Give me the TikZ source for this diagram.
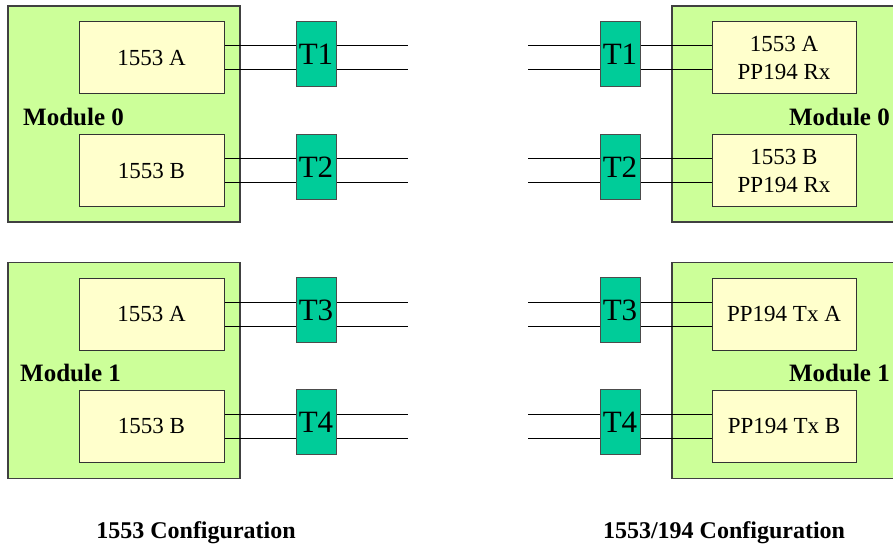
\documentclass[tikz,border=0pt]{standalone}
\usepackage{fontspec}
\setmainfont{Liberation Serif}
\definecolor{verdeModulo}{HTML}{CCFF99}
\definecolor{amarilloChip}{HTML}{FFFFCC}
\definecolor{verdeTrafo}{HTML}{00CC99}
\begin{document}
\begin{tikzpicture}[x=1pt, y=-1pt,
      modulo/.style={draw=black!75, line width=1.2pt, fill=verdeModulo, minimum width=232pt, minimum height=216pt, inner sep=0pt},
      chip/.style={draw=black!80, line width=1pt, fill=amarilloChip, minimum width=145pt, minimum height=72pt, inner sep=0pt, align=center, font=\fontsize{23}{28}\selectfont},
      trafo/.style={draw=black!70, line width=1pt, fill=verdeTrafo, minimum width=40pt, minimum height=65pt, inner sep=0pt, font=\fontsize{31}{31}\selectfont},
      etqModulo/.style={inner sep=0pt, font=\bfseries\fontsize{25}{25}\selectfont},
      etqConfig/.style={inner sep=0pt, font=\bfseries\fontsize{24}{24}\selectfont},
      linea/.style={line width=1pt}
    ]
    \useasboundingbox (0,0) rectangle (893,548);
    \coordinate (finIzq) at (408,0);
    \coordinate (finDer) at (528,0);

    % --- 1553 Configuration ---
    \node[modulo] (mI0) at (124,114) {};
    \node[modulo] (mI1) at (124,370.5) {};
    \node[chip] (aI0) at (151.5,58) {1553 A};
    \node[chip] (bI0) at (151.5,170.5) {1553 B};
    \node[chip] (aI1) at (151.5,314) {1553 A};
    \node[chip] (bI1) at (151.5,426) {1553 B};
    \node[etqModulo, anchor=west] (lI0) at (23,117) {Module 0};
    \node[etqModulo, anchor=west] (lI1) at (20,373) {Module 1};
    \foreach \c in {aI0,bI0,aI1,bI1} {
      \coordinate (p) at ([yshift=12pt]\c.east);
      \coordinate (q) at ([yshift=-12pt]\c.east);
      \draw[linea] (p) -- (p -| finIzq) (q) -- (q -| finIzq);
    }
    \node[trafo] (tI1) at (316,54.5) {T1};
    \node[trafo] (tI2) at (316,167) {T2};
    \node[trafo] (tI3) at (316,310) {T3};
    \node[trafo] (tI4) at (316,422) {T4};
    \node[etqConfig] (cI) at (196,533) {1553 Configuration};

    % --- 1553/194 Configuration ---
    \node[modulo] (mD0) at (788,114) {};
    \node[modulo] (mD1) at (788,370.5) {};
    \node[chip, minimum width=144pt] (aD0) at (784,58) {1553 A\\PP194 Rx};
    \node[chip, minimum width=144pt] (bD0) at (784,170.5) {1553 B\\PP194 Rx};
    \node[chip, minimum width=144pt] (aD1) at (784,314) {PP194 Tx A};
    \node[chip, minimum width=144pt] (bD1) at (784,426) {PP194 Tx B};
    \node[etqModulo, anchor=east] (lD0) at (890,117) {Module 0};
    \node[etqModulo, anchor=east] (lD1) at (890,373) {Module 1};
    \foreach \c in {aD0,bD0,aD1,bD1} {
      \coordinate (p) at ([yshift=12pt]\c.west);
      \coordinate (q) at ([yshift=-12pt]\c.west);
      \draw[linea] (p) -- (p -| finDer) (q) -- (q -| finDer);
    }
    \node[trafo] (tD1) at (620,54.5) {T1};
    \node[trafo] (tD2) at (620,167) {T2};
    \node[trafo] (tD3) at (620,310) {T3};
    \node[trafo] (tD4) at (620,422) {T4};
    \node[etqConfig] (cD) at (724,533) {1553/194 Configuration};
  \end{tikzpicture}
\end{document}
